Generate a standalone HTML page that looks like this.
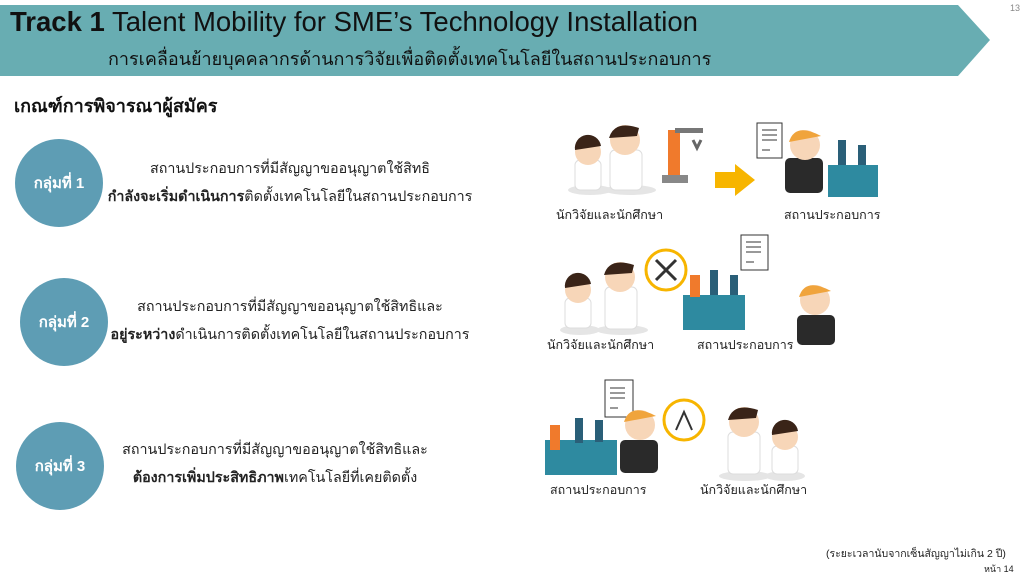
<!DOCTYPE html>
<html><head><meta charset="utf-8"><style>
body{margin:0;width:1024px;height:577px;background:#fff;overflow:hidden;position:relative;font-family:"Liberation Sans",sans-serif;color:#222}
.ab{position:absolute}
.circ{position:absolute;width:88px;height:88px;border-radius:50%;background:#5e9db4;color:#fff;font-size:15px;display:flex;align-items:center;justify-content:center;font-weight:bold}
.txt{position:absolute;font-size:14.3px;text-align:center;width:420px;line-height:28px;white-space:nowrap}
.lab{position:absolute;font-size:12.5px;color:#222;white-space:nowrap}
</style></head><body>
<svg class="ab" style="left:0;top:0" width="1024" height="577">
<polygon points="0,5 958,5 990,40 958,76 0,76" fill="#68adb2"/>
<g>
<ellipse cx="590" cy="190" rx="22" ry="5" fill="#e5e5e5"/>
<ellipse cx="630" cy="190" rx="26" ry="5" fill="#e5e5e5"/>
<rect x="575" y="160" width="26" height="30" rx="5" fill="#fff" stroke="#ddd"/>
<circle cx="588" cy="152" r="13" fill="#f7d6b8"/><path d="M575,150 a13,13 0 0 1 26,-4 z" fill="#3a2418"/>
<rect x="610" y="150" width="32" height="40" rx="5" fill="#fff" stroke="#ddd"/>
<circle cx="625" cy="140" r="15" fill="#f7d6b8"/><path d="M609,138 q5,-18 30,-10 l-2,8 z" fill="#3a2418"/>
<rect x="662" y="175" width="26" height="8" fill="#888"/><rect x="668" y="130" width="12" height="45" fill="#f07a2c"/><rect x="675" y="128" width="28" height="5" fill="#777"/><path d="M693,140 l4,8 4,-8" stroke="#666" stroke-width="3" fill="none"/>
<polygon points="715,172 735,172 735,164 755,180 735,196 735,188 715,188" fill="#f7b500"/>
<rect x="757" y="123" width="25" height="35" fill="#fff" stroke="#333"/><path d="M762,130h15M762,135h15M762,140h15M762,150h8" stroke="#333"/>
<rect x="785" y="158" width="38" height="35" rx="5" fill="#2a2a2a"/>
<circle cx="805" cy="145" r="15" fill="#f7d6b8"/><path d="M789,142 q6,-20 32,-6 z" fill="#f0a43c"/>
<rect x="828" y="165" width="50" height="32" fill="#2e8aa0"/><rect x="838" y="140" width="8" height="25" fill="#2a5f78"/><rect x="858" y="145" width="8" height="20" fill="#2a5f78"/>
</g>
<g>
<ellipse cx="580" cy="330" rx="20" ry="5" fill="#e5e5e5"/><ellipse cx="622" cy="330" rx="26" ry="5" fill="#e5e5e5"/>
<rect x="565" y="298" width="26" height="30" rx="5" fill="#fff" stroke="#ddd"/>
<circle cx="578" cy="290" r="13" fill="#f7d6b8"/><path d="M565,288 a13,13 0 0 1 26,-4 z" fill="#3a2418"/>
<rect x="605" y="287" width="32" height="42" rx="5" fill="#fff" stroke="#ddd"/>
<circle cx="620" cy="277" r="15" fill="#f7d6b8"/><path d="M604,275 q5,-18 30,-10 l-2,8 z" fill="#3a2418"/>
<circle cx="666" cy="270" r="20" fill="#fff" stroke="#f7b500" stroke-width="3"/><path d="M656,260l20,20M676,260l-20,20" stroke="#333" stroke-width="3"/>
<rect x="683" y="295" width="62" height="35" fill="#2e8aa0"/><rect x="690" y="275" width="10" height="22" fill="#f07a2c"/><rect x="710" y="270" width="8" height="25" fill="#2a5f78"/><rect x="730" y="275" width="8" height="20" fill="#2a5f78"/>
<rect x="741" y="235" width="27" height="35" fill="#fff" stroke="#333"/><path d="M746,242h15M746,247h15M746,252h15M746,262h8" stroke="#333"/>
<rect x="797" y="315" width="38" height="30" rx="5" fill="#2a2a2a"/>
<circle cx="815" cy="300" r="15" fill="#f7d6b8"/><path d="M799,297 q6,-20 32,-6 z" fill="#f0a43c"/>
</g>
<g>
<rect x="545" y="440" width="72" height="35" fill="#2e8aa0"/><rect x="550" y="425" width="10" height="25" fill="#f07a2c"/><rect x="575" y="418" width="8" height="25" fill="#2a5f78"/><rect x="595" y="420" width="8" height="22" fill="#2a5f78"/>
<rect x="605" y="380" width="28" height="37" fill="#fff" stroke="#333"/><path d="M610,388h15M610,393h15M610,398h15M610,408h8" stroke="#333"/>
<rect x="620" y="440" width="38" height="33" rx="5" fill="#2a2a2a"/>
<circle cx="640" cy="425" r="15" fill="#f7d6b8"/><path d="M624,422 q6,-20 32,-6 z" fill="#f0a43c"/>
<circle cx="684" cy="420" r="20" fill="#fff" stroke="#f7b500" stroke-width="3"/><path d="M676,430 l8,-18 8,18" stroke="#333" stroke-width="2" fill="none"/>
<ellipse cx="745" cy="476" rx="26" ry="5" fill="#e5e5e5"/><ellipse cx="785" cy="476" rx="20" ry="5" fill="#e5e5e5"/>
<rect x="728" y="432" width="32" height="42" rx="5" fill="#fff" stroke="#ddd"/>
<circle cx="744" cy="422" r="15" fill="#f7d6b8"/><path d="M728,420 q5,-18 30,-10 l-2,8 z" fill="#3a2418"/>
<rect x="772" y="446" width="26" height="28" rx="5" fill="#fff" stroke="#ddd"/>
<circle cx="785" cy="437" r="13" fill="#f7d6b8"/><path d="M772,435 a13,13 0 0 1 26,-4 z" fill="#3a2418"/>
</g>
</svg>
<div class="ab" style="left:10px;top:5px;font-size:27.5px;color:#111;line-height:34px;white-space:nowrap"><b>Track 1</b> Talent Mobility for SME’s Technology Installation</div>
<div class="ab" style="left:108px;top:44px;font-size:18px;color:#111;white-space:nowrap">การเคลื่อนย้ายบุคคลากรด้านการวิจัยเพื่อติดตั้งเทคโนโลยีในสถานประกอบการ</div>
<div class="ab" style="left:1010px;top:3px;font-size:9px;color:#888">13</div>
<div class="ab" style="left:14px;top:91px;font-size:18px;color:#111;font-weight:bold;white-space:nowrap">เกณฑ์การพิจารณาผู้สมัคร</div>
<div class="circ" style="left:15px;top:139px">กลุ่มที่ 1</div>
<div class="circ" style="left:20px;top:278px">กลุ่มที่ 2</div>
<div class="circ" style="left:16px;top:422px">กลุ่มที่ 3</div>
<div class="txt" style="left:80px;top:155px">สถานประกอบการที่มีสัญญาขออนุญาตใช้สิทธิ<br><b>กำลังจะเริ่มดำเนินการ</b>ติดตั้งเทคโนโลยีในสถานประกอบการ</div>
<div class="txt" style="left:80px;top:293px">สถานประกอบการที่มีสัญญาขออนุญาตใช้สิทธิและ<br><b>อยู่ระหว่าง</b>ดำเนินการติดตั้งเทคโนโลยีในสถานประกอบการ</div>
<div class="txt" style="left:65px;top:436px">สถานประกอบการที่มีสัญญาขออนุญาตใช้สิทธิและ<br><b>ต้องการเพิ่มประสิทธิภาพ</b>เทคโนโลยีที่เคยติดตั้ง</div>
<div class="lab" style="left:556px;top:205px">นักวิจัยและนักศึกษา</div>
<div class="lab" style="left:784px;top:205px">สถานประกอบการ</div>
<div class="lab" style="left:547px;top:335px">นักวิจัยและนักศึกษา</div>
<div class="lab" style="left:697px;top:335px">สถานประกอบการ</div>
<div class="lab" style="left:550px;top:480px">สถานประกอบการ</div>
<div class="lab" style="left:700px;top:480px">นักวิจัยและนักศึกษา</div>
<div class="ab" style="left:826px;top:545px;font-size:10.5px;white-space:nowrap">(ระยะเวลานับจากเซ็นสัญญาไม่เกิน 2 ปี)</div>
<div class="ab" style="left:984px;top:562px;font-size:9px;white-space:nowrap">หน้า 14</div>
</body></html>
